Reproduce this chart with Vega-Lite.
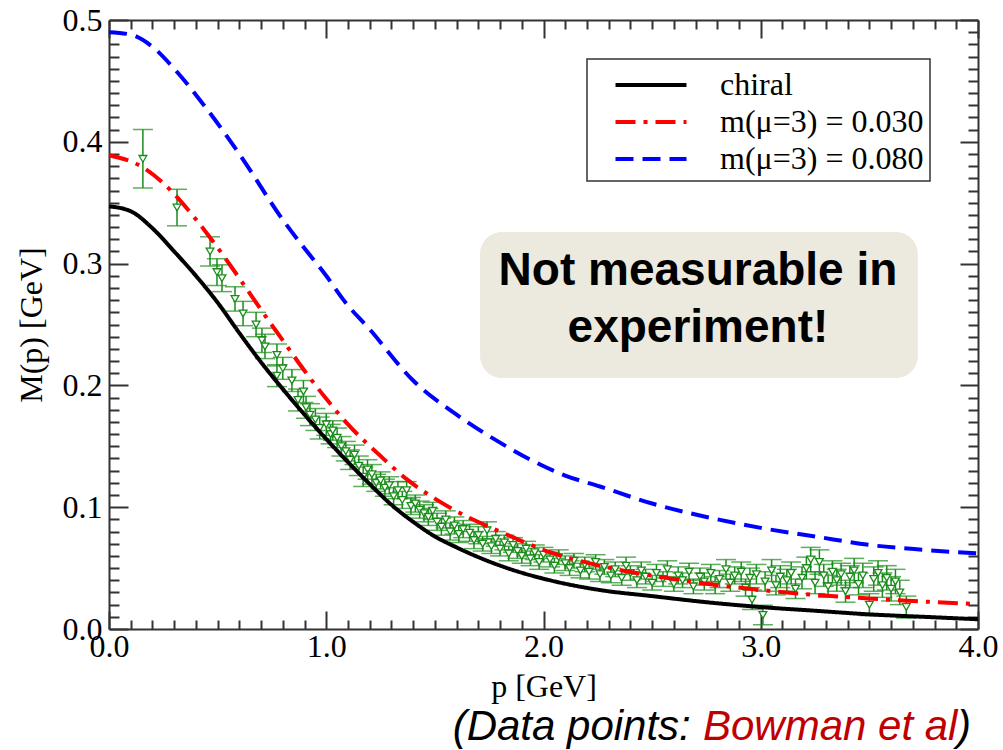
{
  "$schema": "https://vega.github.io/schema/vega-lite/v6.json",
  "width": 869,
  "height": 609,
  "autosize": {"type": "none"},
  "padding": {"left": 109, "top": 20, "right": 25, "bottom": 121},
  "background": "white",
  "config": {
    "view": {"stroke": null},
    "legend": {"strokeWidth": 1.5}
  },
  "datasets": {
    "anno": [{}],
    "curves": [
      {"series": "chiral", "p": 0.0, "M": 0.347},
      {"series": "chiral", "p": 0.1, "M": 0.343},
      {"series": "chiral", "p": 0.2, "M": 0.329},
      {"series": "chiral", "p": 0.3, "M": 0.31},
      {"series": "chiral", "p": 0.4, "M": 0.29},
      {"series": "chiral", "p": 0.5, "M": 0.268},
      {"series": "chiral", "p": 0.6, "M": 0.243},
      {"series": "chiral", "p": 0.7, "M": 0.219},
      {"series": "chiral", "p": 0.8, "M": 0.197},
      {"series": "chiral", "p": 0.9, "M": 0.176},
      {"series": "chiral", "p": 1.0, "M": 0.156},
      {"series": "chiral", "p": 1.1, "M": 0.137},
      {"series": "chiral", "p": 1.2, "M": 0.119},
      {"series": "chiral", "p": 1.3, "M": 0.102},
      {"series": "chiral", "p": 1.4, "M": 0.088},
      {"series": "chiral", "p": 1.5, "M": 0.076},
      {"series": "chiral", "p": 1.6, "M": 0.067},
      {"series": "chiral", "p": 1.7, "M": 0.059},
      {"series": "chiral", "p": 1.85, "M": 0.049},
      {"series": "chiral", "p": 2.03, "M": 0.04},
      {"series": "chiral", "p": 2.26, "M": 0.032},
      {"series": "chiral", "p": 2.5, "M": 0.027},
      {"series": "chiral", "p": 2.75, "M": 0.022},
      {"series": "chiral", "p": 3.0, "M": 0.018},
      {"series": "chiral", "p": 3.25, "M": 0.015},
      {"series": "chiral", "p": 3.5, "M": 0.012},
      {"series": "chiral", "p": 3.75, "M": 0.01},
      {"series": "chiral", "p": 4.0, "M": 0.008},
      {"series": "m(μ=3) = 0.030", "p": 0.0, "M": 0.389},
      {"series": "m(μ=3) = 0.030", "p": 0.156, "M": 0.379},
      {"series": "m(μ=3) = 0.030", "p": 0.25, "M": 0.366},
      {"series": "m(μ=3) = 0.030", "p": 0.36, "M": 0.345},
      {"series": "m(μ=3) = 0.030", "p": 0.45, "M": 0.325},
      {"series": "m(μ=3) = 0.030", "p": 0.6, "M": 0.288},
      {"series": "m(μ=3) = 0.030", "p": 0.7, "M": 0.262},
      {"series": "m(μ=3) = 0.030", "p": 0.8, "M": 0.237},
      {"series": "m(μ=3) = 0.030", "p": 0.9, "M": 0.212},
      {"series": "m(μ=3) = 0.030", "p": 1.0, "M": 0.189},
      {"series": "m(μ=3) = 0.030", "p": 1.1, "M": 0.168},
      {"series": "m(μ=3) = 0.030", "p": 1.25, "M": 0.142},
      {"series": "m(μ=3) = 0.030", "p": 1.37, "M": 0.123},
      {"series": "m(μ=3) = 0.030", "p": 1.5, "M": 0.107},
      {"series": "m(μ=3) = 0.030", "p": 1.65, "M": 0.092},
      {"series": "m(μ=3) = 0.030", "p": 1.8, "M": 0.08},
      {"series": "m(μ=3) = 0.030", "p": 2.03, "M": 0.063},
      {"series": "m(μ=3) = 0.030", "p": 2.26, "M": 0.052},
      {"series": "m(μ=3) = 0.030", "p": 2.6, "M": 0.041},
      {"series": "m(μ=3) = 0.030", "p": 3.0, "M": 0.032},
      {"series": "m(μ=3) = 0.030", "p": 3.5, "M": 0.025},
      {"series": "m(μ=3) = 0.030", "p": 4.0, "M": 0.0205},
      {"series": "m(μ=3) = 0.080", "p": 0.0, "M": 0.49},
      {"series": "m(μ=3) = 0.080", "p": 0.1, "M": 0.488},
      {"series": "m(μ=3) = 0.080", "p": 0.2, "M": 0.478},
      {"series": "m(μ=3) = 0.080", "p": 0.3, "M": 0.46},
      {"series": "m(μ=3) = 0.080", "p": 0.42, "M": 0.434},
      {"series": "m(μ=3) = 0.080", "p": 0.6, "M": 0.39},
      {"series": "m(μ=3) = 0.080", "p": 0.8, "M": 0.336},
      {"series": "m(μ=3) = 0.080", "p": 0.88, "M": 0.317},
      {"series": "m(μ=3) = 0.080", "p": 1.0, "M": 0.29},
      {"series": "m(μ=3) = 0.080", "p": 1.08, "M": 0.27},
      {"series": "m(μ=3) = 0.080", "p": 1.2, "M": 0.246},
      {"series": "m(μ=3) = 0.080", "p": 1.4, "M": 0.204},
      {"series": "m(μ=3) = 0.080", "p": 1.6, "M": 0.176},
      {"series": "m(μ=3) = 0.080", "p": 1.8, "M": 0.153},
      {"series": "m(μ=3) = 0.080", "p": 1.94, "M": 0.139},
      {"series": "m(μ=3) = 0.080", "p": 2.1, "M": 0.126},
      {"series": "m(μ=3) = 0.080", "p": 2.26, "M": 0.117},
      {"series": "m(μ=3) = 0.080", "p": 2.5, "M": 0.103},
      {"series": "m(μ=3) = 0.080", "p": 2.75, "M": 0.092},
      {"series": "m(μ=3) = 0.080", "p": 3.0, "M": 0.083},
      {"series": "m(μ=3) = 0.080", "p": 3.25, "M": 0.076},
      {"series": "m(μ=3) = 0.080", "p": 3.5, "M": 0.069},
      {"series": "m(μ=3) = 0.080", "p": 3.75, "M": 0.065},
      {"series": "m(μ=3) = 0.080", "p": 4.0, "M": 0.062}
    ],
    "lattice": [
      {"p": 0.156, "M": 0.386, "e": 0.024},
      {"p": 0.313, "M": 0.346, "e": 0.015},
      {"p": 0.465, "M": 0.31, "e": 0.012},
      {"p": 0.497, "M": 0.293, "e": 0.011},
      {"p": 0.52, "M": 0.288, "e": 0.011},
      {"p": 0.58, "M": 0.271, "e": 0.01},
      {"p": 0.617, "M": 0.259, "e": 0.01},
      {"p": 0.677, "M": 0.25, "e": 0.01},
      {"p": 0.704, "M": 0.237, "e": 0.01},
      {"p": 0.718, "M": 0.232, "e": 0.01},
      {"p": 0.773, "M": 0.225, "e": 0.009},
      {"p": 0.773, "M": 0.208, "e": 0.009},
      {"p": 0.8, "M": 0.214, "e": 0.009},
      {"p": 0.842, "M": 0.204, "e": 0.009},
      {"p": 0.87, "M": 0.188, "e": 0.009},
      {"p": 0.895, "M": 0.195, "e": 0.009},
      {"p": 0.907, "M": 0.182, "e": 0.009},
      {"p": 0.925, "M": 0.176, "e": 0.009},
      {"p": 0.95, "M": 0.172, "e": 0.009},
      {"p": 0.97, "M": 0.165, "e": 0.009},
      {"p": 1.0, "M": 0.168, "e": 0.009},
      {"p": 1.02, "M": 0.16, "e": 0.008},
      {"p": 1.03, "M": 0.163, "e": 0.008},
      {"p": 1.05, "M": 0.157, "e": 0.008},
      {"p": 1.07, "M": 0.15, "e": 0.008},
      {"p": 1.09, "M": 0.146, "e": 0.008},
      {"p": 1.11, "M": 0.139, "e": 0.008},
      {"p": 1.13, "M": 0.143, "e": 0.008},
      {"p": 1.15, "M": 0.134, "e": 0.008},
      {"p": 1.17, "M": 0.125, "e": 0.008},
      {"p": 1.19, "M": 0.131, "e": 0.008},
      {"p": 1.21, "M": 0.127, "e": 0.008},
      {"p": 1.23, "M": 0.12, "e": 0.007},
      {"p": 1.25, "M": 0.122, "e": 0.007},
      {"p": 1.27, "M": 0.116, "e": 0.007},
      {"p": 1.29, "M": 0.118, "e": 0.007},
      {"p": 1.31, "M": 0.109, "e": 0.007},
      {"p": 1.33, "M": 0.114, "e": 0.007},
      {"p": 1.35, "M": 0.106, "e": 0.007},
      {"p": 1.37, "M": 0.114, "e": 0.007},
      {"p": 1.39, "M": 0.101, "e": 0.007},
      {"p": 1.41, "M": 0.103, "e": 0.007},
      {"p": 1.43, "M": 0.098, "e": 0.007},
      {"p": 1.45, "M": 0.095, "e": 0.007},
      {"p": 1.47, "M": 0.092, "e": 0.007},
      {"p": 1.49, "M": 0.097, "e": 0.007},
      {"p": 1.51, "M": 0.088, "e": 0.007},
      {"p": 1.53, "M": 0.084, "e": 0.007},
      {"p": 1.55, "M": 0.09, "e": 0.007},
      {"p": 1.57, "M": 0.08, "e": 0.007},
      {"p": 1.59, "M": 0.085, "e": 0.007},
      {"p": 1.61, "M": 0.078, "e": 0.007},
      {"p": 1.63, "M": 0.082, "e": 0.007},
      {"p": 1.66, "M": 0.079, "e": 0.007},
      {"p": 1.68, "M": 0.073, "e": 0.007},
      {"p": 1.7, "M": 0.077, "e": 0.007},
      {"p": 1.72, "M": 0.07, "e": 0.006},
      {"p": 1.74, "M": 0.081, "e": 0.007},
      {"p": 1.76, "M": 0.068, "e": 0.006},
      {"p": 1.78, "M": 0.074, "e": 0.006},
      {"p": 1.8, "M": 0.066, "e": 0.006},
      {"p": 1.82, "M": 0.071, "e": 0.006},
      {"p": 1.84, "M": 0.062, "e": 0.006},
      {"p": 1.86, "M": 0.069, "e": 0.006},
      {"p": 1.88, "M": 0.064, "e": 0.006},
      {"p": 1.9, "M": 0.06, "e": 0.006},
      {"p": 1.92, "M": 0.066, "e": 0.006},
      {"p": 1.94, "M": 0.058, "e": 0.006},
      {"p": 1.96, "M": 0.063, "e": 0.006},
      {"p": 1.98, "M": 0.055, "e": 0.006},
      {"p": 2.0, "M": 0.061, "e": 0.006},
      {"p": 2.03, "M": 0.057, "e": 0.006},
      {"p": 2.05, "M": 0.052, "e": 0.006},
      {"p": 2.07, "M": 0.059, "e": 0.006},
      {"p": 2.1, "M": 0.054, "e": 0.006},
      {"p": 2.12, "M": 0.05, "e": 0.006},
      {"p": 2.14, "M": 0.056, "e": 0.006},
      {"p": 2.17, "M": 0.048, "e": 0.006},
      {"p": 2.19, "M": 0.053, "e": 0.006},
      {"p": 2.21, "M": 0.047, "e": 0.006},
      {"p": 2.24, "M": 0.055, "e": 0.006},
      {"p": 2.26, "M": 0.045, "e": 0.006},
      {"p": 2.28, "M": 0.051, "e": 0.006},
      {"p": 2.31, "M": 0.044, "e": 0.006},
      {"p": 2.33, "M": 0.049, "e": 0.006},
      {"p": 2.36, "M": 0.042, "e": 0.006},
      {"p": 2.38, "M": 0.052, "e": 0.007},
      {"p": 2.4, "M": 0.046, "e": 0.006},
      {"p": 2.43, "M": 0.04, "e": 0.006},
      {"p": 2.45, "M": 0.048, "e": 0.007},
      {"p": 2.47, "M": 0.043, "e": 0.006},
      {"p": 2.5, "M": 0.038, "e": 0.006},
      {"p": 2.52, "M": 0.046, "e": 0.007},
      {"p": 2.55, "M": 0.041, "e": 0.006},
      {"p": 2.57, "M": 0.049, "e": 0.007},
      {"p": 2.6, "M": 0.037, "e": 0.006},
      {"p": 2.62, "M": 0.044, "e": 0.007},
      {"p": 2.64, "M": 0.04, "e": 0.006},
      {"p": 2.67, "M": 0.047, "e": 0.007},
      {"p": 2.69, "M": 0.035, "e": 0.006},
      {"p": 2.72, "M": 0.043, "e": 0.007},
      {"p": 2.74, "M": 0.039, "e": 0.007},
      {"p": 2.77, "M": 0.046, "e": 0.007},
      {"p": 2.79, "M": 0.036, "e": 0.007},
      {"p": 2.81, "M": 0.041, "e": 0.007},
      {"p": 2.84, "M": 0.049, "e": 0.008},
      {"p": 2.86, "M": 0.038, "e": 0.007},
      {"p": 2.88, "M": 0.044, "e": 0.007},
      {"p": 2.91, "M": 0.047, "e": 0.008},
      {"p": 2.93, "M": 0.034, "e": 0.007},
      {"p": 2.95, "M": 0.042, "e": 0.008},
      {"p": 2.96, "M": 0.024, "e": 0.008},
      {"p": 2.98, "M": 0.045, "e": 0.008},
      {"p": 3.01, "M": 0.0115, "e": 0.008},
      {"p": 3.02, "M": 0.039, "e": 0.008},
      {"p": 3.05, "M": 0.048, "e": 0.009},
      {"p": 3.07, "M": 0.036, "e": 0.008},
      {"p": 3.09, "M": 0.043, "e": 0.009},
      {"p": 3.12, "M": 0.04, "e": 0.009},
      {"p": 3.14, "M": 0.046, "e": 0.009},
      {"p": 3.16, "M": 0.033, "e": 0.008},
      {"p": 3.19, "M": 0.042, "e": 0.009},
      {"p": 3.21, "M": 0.05, "e": 0.009},
      {"p": 3.23, "M": 0.057, "e": 0.01},
      {"p": 3.25, "M": 0.038, "e": 0.009},
      {"p": 3.27, "M": 0.055, "e": 0.01},
      {"p": 3.29, "M": 0.044, "e": 0.009},
      {"p": 3.31, "M": 0.035, "e": 0.009},
      {"p": 3.33, "M": 0.047, "e": 0.009},
      {"p": 3.35, "M": 0.04, "e": 0.009},
      {"p": 3.37, "M": 0.045, "e": 0.009},
      {"p": 3.39, "M": 0.031, "e": 0.009},
      {"p": 3.41, "M": 0.043, "e": 0.009},
      {"p": 3.43, "M": 0.048, "e": 0.01},
      {"p": 3.45, "M": 0.037, "e": 0.009},
      {"p": 3.47, "M": 0.044, "e": 0.01},
      {"p": 3.5, "M": 0.02, "e": 0.009},
      {"p": 3.52, "M": 0.041, "e": 0.01},
      {"p": 3.54, "M": 0.046, "e": 0.01},
      {"p": 3.56, "M": 0.036, "e": 0.01},
      {"p": 3.58, "M": 0.042, "e": 0.01},
      {"p": 3.6, "M": 0.033, "e": 0.01},
      {"p": 3.62, "M": 0.039, "e": 0.01},
      {"p": 3.64, "M": 0.03, "e": 0.01},
      {"p": 3.67, "M": 0.018, "e": 0.009}
    ]
  },
  "layer": [
    {
      "data": {"name": "anno"},
      "mark": {"type": "rect", "fill": "#ECE9DF", "cornerRadius": 22},
      "encoding": {
        "x": {"datum": 1.708, "type": "quantitative", "scale": {"domain": [0, 4], "nice": false, "zero": false},
          "axis": {
            "orient": "top", "labels": false, "title": null, "grid": false,
            "values": [0,0.1,0.2,0.3,0.4,0.5,0.6,0.7,0.8,0.9,1,1.1,1.2,1.3,1.4,1.5,1.6,1.7,1.8,1.9,2,2.1,2.2,2.3,2.4,2.5,2.6,2.7,2.8,2.9,3,3.1,3.2,3.3,3.4,3.5,3.6,3.7,3.8,3.9,4],
            "tickSize": {"condition": {"test": "abs(datum.value - round(datum.value)) < 0.001", "value": -18}, "value": -9},
            "tickWidth": 2, "tickColor": "#333", "domainColor": "#333", "domainWidth": 2
          }},
        "x2": {"datum": 3.723},
        "y": {"datum": 0.326, "type": "quantitative", "scale": {"domain": [0, 0.5], "nice": false},
          "axis": {
            "orient": "right", "labels": false, "title": null, "grid": false,
            "values": [0,0.01,0.02,0.03,0.04,0.05,0.06,0.07,0.08,0.09,0.1,0.11,0.12,0.13,0.14,0.15,0.16,0.17,0.18,0.19,0.2,0.21,0.22,0.23,0.24,0.25,0.26,0.27,0.28,0.29,0.3,0.31,0.32,0.33,0.34,0.35,0.36,0.37,0.38,0.39,0.4,0.41,0.42,0.43,0.44,0.45,0.46,0.47,0.48,0.49,0.5],
            "tickSize": {"condition": {"test": "abs(datum.value*10 - round(datum.value*10)) < 0.001", "value": -18}, "value": -10},
            "tickWidth": 2, "tickColor": "#333", "domainColor": "#333", "domainWidth": 2
          }},
        "y2": {"datum": 0.206}
      }
    },
    {
      "data": {"name": "anno"},
      "mark": {"type": "text", "text": "Not measurable in", "font": "Liberation Sans", "fontWeight": "bold", "fontSize": 46, "align": "center", "baseline": "alphabetic", "color": "black"},
      "encoding": {
        "x": {"datum": 2.711, "type": "quantitative", "scale": {"domain": [0, 4], "nice": false, "zero": false}, "axis": null},
        "y": {"datum": 0.2824, "type": "quantitative", "scale": {"domain": [0, 0.5], "nice": false}, "axis": null}
      }
    },
    {
      "data": {"name": "anno"},
      "mark": {"type": "text", "text": "experiment!", "font": "Liberation Sans", "fontWeight": "bold", "fontSize": 46, "align": "center", "baseline": "alphabetic", "color": "black"},
      "encoding": {
        "x": {"datum": 2.711, "type": "quantitative", "scale": {"domain": [0, 4], "nice": false, "zero": false}, "axis": null},
        "y": {"datum": 0.2356, "type": "quantitative", "scale": {"domain": [0, 0.5], "nice": false}, "axis": null}
      }
    },
    {
      "data": {"name": "anno"},
      "mark": {"type": "text", "text": "(Data points:", "font": "Liberation Sans", "fontStyle": "italic", "fontSize": 42, "align": "right", "baseline": "alphabetic", "color": "black"},
      "encoding": {
        "x": {"datum": 2.678, "type": "quantitative", "scale": {"domain": [0, 4], "nice": false, "zero": false}, "axis": null},
        "y": {"datum": -0.0911, "type": "quantitative", "scale": {"domain": [0, 0.5], "nice": false}, "axis": null}
      }
    },
    {
      "data": {"name": "anno"},
      "mark": {"type": "text", "text": "Bowman et al", "font": "Liberation Sans", "fontStyle": "italic", "fontSize": 42, "align": "left", "baseline": "alphabetic", "color": "#C00000"},
      "encoding": {
        "x": {"datum": 2.734, "type": "quantitative", "scale": {"domain": [0, 4], "nice": false, "zero": false}, "axis": null},
        "y": {"datum": -0.0911, "type": "quantitative", "scale": {"domain": [0, 0.5], "nice": false}, "axis": null}
      }
    },
    {
      "data": {"name": "anno"},
      "mark": {"type": "text", "text": ")", "font": "Liberation Sans", "fontStyle": "italic", "fontSize": 42, "align": "right", "baseline": "alphabetic", "color": "black"},
      "encoding": {
        "x": {"datum": 3.968, "type": "quantitative", "scale": {"domain": [0, 4], "nice": false, "zero": false}, "axis": null},
        "y": {"datum": -0.0911, "type": "quantitative", "scale": {"domain": [0, 0.5], "nice": false}, "axis": null}
      }
    },
    {
      "data": {"name": "lattice"},
      "mark": {"type": "errorbar", "ticks": {"size": 20, "thickness": 1.5, "color": "#1a8c1a"}, "rule": {"strokeWidth": 1.5, "color": "#1a8c1a"}},
      "encoding": {
        "x": {"field": "p", "type": "quantitative", "scale": {"domain": [0, 4], "nice": false, "zero": false}, "axis": null},
        "y": {"field": "M", "type": "quantitative", "scale": {"domain": [0, 0.5], "nice": false}, "axis": null},
        "yError": {"field": "e"}
      }
    },
    {
      "data": {"name": "lattice"},
      "mark": {"type": "point", "shape": "triangle-down", "size": 60, "fill": "white", "fillOpacity": 1, "stroke": "#1a8c1a", "strokeWidth": 1.3, "opacity": 1},
      "encoding": {
        "x": {"field": "p", "type": "quantitative", "scale": {"domain": [0, 4], "nice": false, "zero": false}, "axis": null},
        "y": {"field": "M", "type": "quantitative", "scale": {"domain": [0, 0.5], "nice": false}, "axis": null}
      }
    },
    {
      "data": {"name": "curves"},
      "mark": {"type": "line", "strokeWidth": 4, "interpolate": "monotone", "strokeCap": "butt"},
      "encoding": {
        "x": {"field": "p", "type": "quantitative", "scale": {"domain": [0, 4], "nice": false, "zero": false},
          "axis": {
            "orient": "bottom", "grid": false,
            "values": [0,0.1,0.2,0.3,0.4,0.5,0.6,0.7,0.8,0.9,1,1.1,1.2,1.3,1.4,1.5,1.6,1.7,1.8,1.9,2,2.1,2.2,2.3,2.4,2.5,2.6,2.7,2.8,2.9,3,3.1,3.2,3.3,3.4,3.5,3.6,3.7,3.8,3.9,4],
            "labelExpr": "abs(datum.value - round(datum.value)) < 0.001 ? format(datum.value, '.1f') : ''",
            "tickSize": {"condition": {"test": "abs(datum.value - round(datum.value)) < 0.001", "value": -18}, "value": -9},
            "tickWidth": 2, "tickColor": "#333", "domainColor": "#333", "domainWidth": 2,
            "labelFont": "Liberation Serif", "labelFontSize": 32, "labelColor": "black",
            "labelPadding": 20, "labelOverlap": false, "labelFlush": false, "labelBound": false,
            "title": "p [GeV]", "titleFont": "Liberation Serif", "titleFontSize": 32, "titleFontWeight": "normal", "titleColor": "black", "titlePadding": 0
          }},
        "y": {"field": "M", "type": "quantitative", "scale": {"domain": [0, 0.5], "nice": false},
          "axis": {
            "orient": "left", "grid": false,
            "values": [0,0.01,0.02,0.03,0.04,0.05,0.06,0.07,0.08,0.09,0.1,0.11,0.12,0.13,0.14,0.15,0.16,0.17,0.18,0.19,0.2,0.21,0.22,0.23,0.24,0.25,0.26,0.27,0.28,0.29,0.3,0.31,0.32,0.33,0.34,0.35,0.36,0.37,0.38,0.39,0.4,0.41,0.42,0.43,0.44,0.45,0.46,0.47,0.48,0.49,0.5],
            "labelExpr": "abs(datum.value*10 - round(datum.value*10)) < 0.001 ? format(datum.value, '.1f') : ''",
            "tickSize": {"condition": {"test": "abs(datum.value*10 - round(datum.value*10)) < 0.001", "value": -19}, "value": -10},
            "tickWidth": 2, "tickColor": "#333", "domainColor": "#333", "domainWidth": 2,
            "labelFont": "Liberation Serif", "labelFontSize": 32, "labelColor": "black",
            "labelPadding": 26, "labelOverlap": false, "labelFlush": false, "labelBound": false,
            "title": "M(p) [GeV]", "titleFont": "Liberation Serif", "titleFontSize": 32, "titleFontWeight": "normal", "titleColor": "black", "titlePadding": 14
          }},
        "color": {"field": "series", "type": "nominal",
          "scale": {"domain": ["chiral", "m(μ=3) = 0.030", "m(μ=3) = 0.080"], "range": ["#000000", "#FF0000", "#0000FF"]},
          "legend": {"orient": "none", "legendX": 478, "legendY": 39, "title": null, "symbolType": "M-2,0H2", "symbolSize": 1260, "symbolStrokeWidth": 4, "symbolFillColor": "transparent", "labelFont": "Liberation Serif", "labelFontSize": 32, "labelColor": "black", "labelLimit": 500, "strokeColor": "#333", "padding": 6, "rowPadding": 1, "labelOffset": 49, "symbolOffset": 38, "fillColor": "white"}},
        "strokeDash": {"field": "series", "type": "nominal",
          "scale": {"domain": ["chiral", "m(μ=3) = 0.030", "m(μ=3) = 0.080"], "range": [[1, 0], [20, 8, 4, 8], [18, 9]]}}
      }
    }
  ],
  "resolve": {"scale": {"x": "shared", "y": "shared"}, "axis": {"x": "independent", "y": "independent"}}
}
